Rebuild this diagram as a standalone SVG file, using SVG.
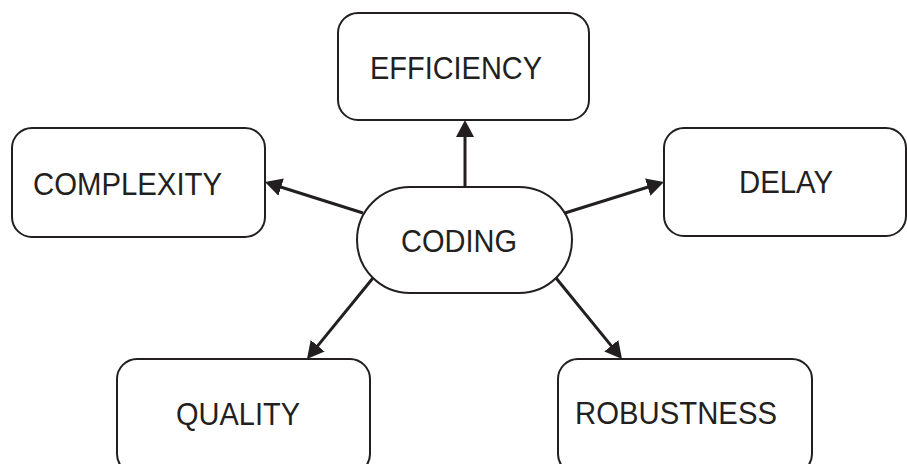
<svg xmlns="http://www.w3.org/2000/svg" width="907" height="464" viewBox="0 0 907 464">
  <style>
    .box { fill: #ffffff; stroke: #231f20; stroke-width: 2; }
    .label { font-family: "Liberation Sans", Arial, sans-serif; font-size: 31px; fill: #231f20; }
    .edge { stroke: #231f20; stroke-width: 3; fill: none; marker-end: url(#arrow); }
  </style>
  <defs>
    <marker id="arrow" markerUnits="userSpaceOnUse" markerWidth="20" markerHeight="20" viewBox="0 -10 20 20" refX="3" refY="0" orient="auto">
      <path d="M0,-9 L17,0 L0,9 Z" fill="#231f20"/>
    </marker>
  </defs>
  <rect width="907" height="464" fill="#ffffff"/>

  <g id="connectors">
    <line class="edge" x1="465" y1="188" x2="465" y2="134"/>
    <line class="edge" x1="363" y1="213" x2="278.3" y2="186.2"/>
    <line class="edge" x1="565" y1="213" x2="650.6" y2="186.2"/>
    <line class="edge" x1="373" y1="278" x2="315.8" y2="348.1"/>
    <line class="edge" x1="556" y1="278" x2="613.2" y2="348.1"/>
  </g>

  <g id="coding">
    <rect class="box" x="357" y="187" width="215" height="106" rx="53" ry="53"/>
    <text class="label" x="401" y="252" textLength="116" lengthAdjust="spacingAndGlyphs">CODING</text>
  </g>

  <g id="efficiency">
    <rect class="box" x="338" y="13" width="251" height="107" rx="20" ry="20"/>
    <text class="label" x="370" y="79" textLength="172" lengthAdjust="spacingAndGlyphs">EFFICIENCY</text>
  </g>

  <g id="complexity">
    <rect class="box" x="12" y="128" width="253" height="109" rx="20" ry="20"/>
    <text class="label" x="33" y="195" textLength="189" lengthAdjust="spacingAndGlyphs">COMPLEXITY</text>
  </g>

  <g id="delay">
    <rect class="box" x="664" y="128" width="242" height="108" rx="20" ry="20"/>
    <text class="label" x="739" y="193" textLength="94" lengthAdjust="spacingAndGlyphs">DELAY</text>
  </g>

  <g id="quality">
    <rect class="box" x="117" y="359" width="253" height="115" rx="20" ry="20"/>
    <text class="label" x="176" y="425" textLength="124" lengthAdjust="spacingAndGlyphs">QUALITY</text>
  </g>

  <g id="robustness">
    <rect class="box" x="558" y="359" width="254" height="115" rx="20" ry="20"/>
    <text class="label" x="575" y="424" textLength="202" lengthAdjust="spacingAndGlyphs">ROBUSTNESS</text>
  </g>
</svg>
